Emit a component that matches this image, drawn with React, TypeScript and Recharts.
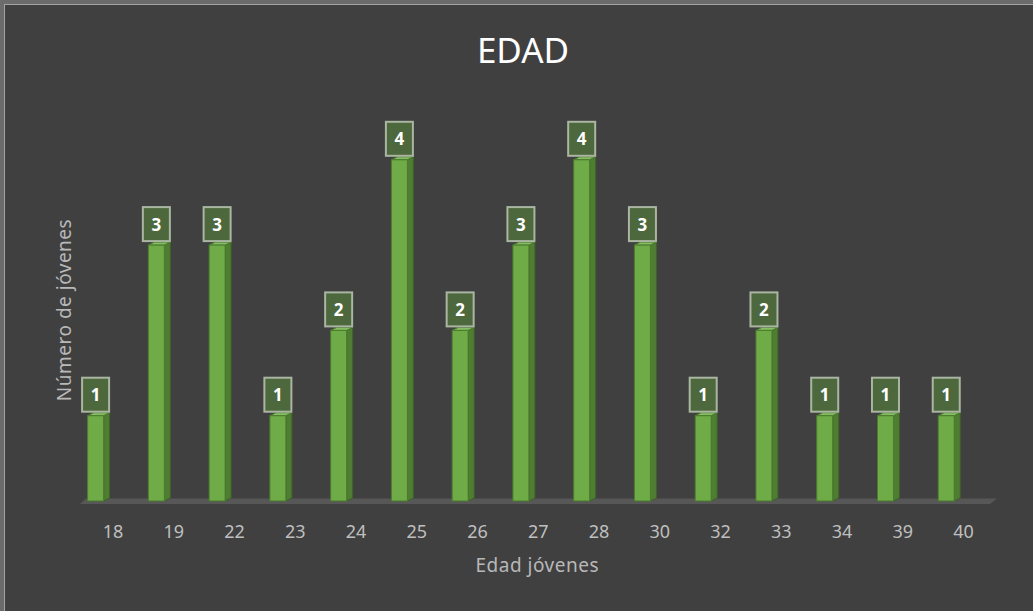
import React from "react";
import { Bar, BarChart, LabelList, XAxis, YAxis } from "recharts";

const ages = ["18", "19", "22", "23", "24", "25", "26", "27", "28", "30", "32", "33", "34", "39", "40"];
const counts = [1, 3, 3, 1, 2, 4, 2, 3, 4, 3, 1, 2, 1, 1, 1];

const data = ages.map((age, i) => ({ age, count: counts[i] }));

const FONT = "'Noto Sans', 'Open Sans', sans-serif";
const DEPTH = 6;
const RISE = 3;

function Bar3D(props: any) {
  const { x, y, width, height } = props;
  if (height == null || height <= 0) return null;
  const fw = width - DEPTH;
  const side = `${x + fw},${y} ${x + fw + DEPTH},${y - RISE} ${x + fw + DEPTH},${y + height - RISE} ${x + fw},${y + height}`;
  const top = `${x},${y} ${x + DEPTH},${y - RISE} ${x + fw + DEPTH},${y - RISE} ${x + fw},${y}`;
  return (
    <g>
      <polygon points={side} fill="#4f7d32" stroke="#3d6326" strokeWidth={1} />
      <polygon points={top} fill="#86bd62" stroke="#4a7a2e" strokeWidth={1} />
      <rect x={x} y={y} width={fw} height={height} fill="#6fab46" stroke="#4c7c2f" strokeWidth={1} />
    </g>
  );
}

function ValueBox(props: any) {
  const { x, y, width, value } = props;
  const cx = x + (width - DEPTH) / 2;
  const bottom = y - 4;
  return (
    <g>
      <rect x={cx - 13.5} y={bottom - 34} width={27} height={34} fill="#4e683d" stroke="#aab5a2" strokeWidth={2} />
      <text x={cx} y={bottom - 17} textAnchor="middle" dominantBaseline="central" fill="#ffffff" fontSize={17} fontWeight={700} fontFamily={FONT}>
        {value}
      </text>
    </g>
  );
}

export default function App() {
  return (
    <div style={{ position: "relative", width: 1033, height: 611, overflow: "hidden", background: "#6b6b6b" }}>
      <style>{`body{margin:0}`}</style>
      <div
        style={{
          position: "absolute",
          left: 4,
          top: 4,
          width: 1040,
          height: 620,
          background: "#404040",
          borderLeft: "1px solid #a3a3a3",
          borderTop: "1px solid #a3a3a3",
        }}
      />
      <div style={{ position: "absolute", left: 0, top: 0 }}>
        <BarChart width={1033} height={611} data={data} margin={{ top: 74.5, right: 53, bottom: 80, left: 0 }} barSize={22}>
          <text x={523} y={63} textAnchor="middle" fill="#ffffff" fontSize={35} fontFamily={FONT}>
            EDAD
          </text>
          {/* 3D floor under the bars */}
          <polygon points="80,504 86,498.5 997,498.5 990,504" fill="#575757" />
          <XAxis
            dataKey="age"
            height={30}
            tickLine={false}
            tickSize={6}
            tickMargin={18}
            axisLine={false}
            tick={{ fill: "#bfbfbf", fontSize: 18, fontFamily: FONT, dx: 14 }}
            interval={0}
            label={{
              content: (p: any) => (
                <text
                  x={p.viewBox.x + p.viewBox.width / 2 + 13}
                  y={572}
                  textAnchor="middle"
                  fill="#b8b8b8"
                  fontSize={19}
                  letterSpacing={0.5}
                  fontFamily={FONT}
                >
                  Edad jóvenes
                </text>
              ),
            }}
          />
          <YAxis
            width={68.6}
            domain={[0, 5]}
            ticks={[0, 1, 2, 3, 4, 5]}
            tick={false}
            tickLine={false}
            axisLine={false}
            label={{
              content: () => (
                <text
                  x={64}
                  y={310}
                  transform="rotate(-90 64 310)"
                  textAnchor="middle"
                  dominantBaseline="central"
                  fill="#b8b8b8"
                  fontSize={19}
                  letterSpacing={0.5}
                  fontFamily={FONT}
                >
                  Número de jóvenes
                </text>
              ),
            }}
          />
          <Bar dataKey="count" shape={<Bar3D />} isAnimationActive={false}>
            <LabelList dataKey="count" content={<ValueBox />} />
          </Bar>
        </BarChart>
      </div>
    </div>
  );
}
